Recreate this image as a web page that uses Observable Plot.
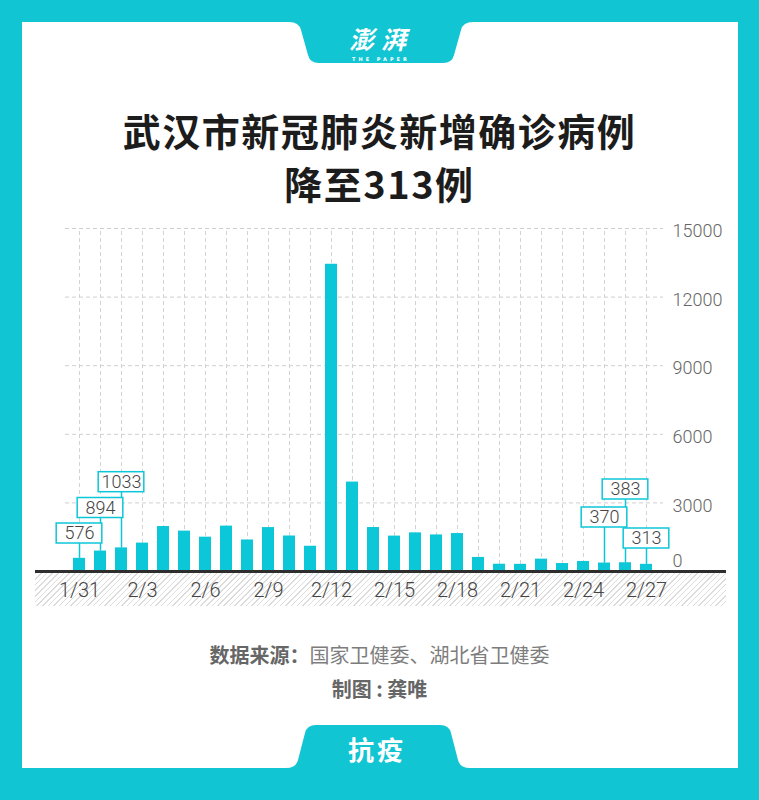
<!DOCTYPE html>
<html>
<head>
<meta charset="utf-8">
<script src="https://cdn.jsdelivr.net/npm/d3@7"></script>
<script src="https://cdn.jsdelivr.net/npm/@observablehq/plot@0.6"></script>
<style>
  html, body { margin: 0; padding: 0; }
  body { width: 759px; height: 800px; position: relative; overflow: hidden; background: #12c5d3; font-family: "Noto Sans CJK SC", "Noto Sans", sans-serif; }
  #paper { position: absolute; left: 22px; top: 22px; width: 716px; height: 746px; background: #fff; }
  #deco { position: absolute; left: 0; top: 0; }
  .title { position: absolute; left: 0; width: 759px; text-align: center; font-weight: 700; color: #1c1c1c; font-size: 38px; letter-spacing: 1.5px; line-height: 52px; }
  #hatch { position: absolute; left: 35px; top: 573px; width: 691px; height: 33px;
    background: repeating-linear-gradient(135deg, #dcdcdc 0px, #dcdcdc 1px, transparent 1px, transparent 4px); }
  #chart { position: absolute; left: 0; top: 200px; }
  .foot { position: absolute; left: 0; width: 759px; text-align: center; font-size: 20px; color: #7d7d7d; }
  .foot b { color: #666; font-weight: 700; }
  .logo { position: absolute; left: 0; width: 762px; text-align: center; color: #fff; line-height: 1; }
</style>
</head>
<body>
<div id="paper"></div>
<svg id="deco" width="759" height="800">
  <path fill="#12c5d3" d="M289 22 Q299 22 301 30 L308 55 Q310 63 319 63 L443 63 Q452 63 454 55 L461 30 Q463 22 473 22 Z"/>
  <path fill="#12c5d3" d="M286 768 Q296 768 298 760 L305 733 Q307 725 316 725 L440 725 Q449 725 451 733 L458 760 Q460 768 470 768 Z"/>
</svg>
<div class="logo" style="top:26px;font-size:25px;font-weight:700;font-style:italic;letter-spacing:7px;">澎湃</div>
<div class="logo" style="top:57px;font-size:5px;font-weight:700;letter-spacing:3px;font-family:'DejaVu Sans';">THE PAPER</div>
<div class="title" style="top:104px;">武汉市新冠肺炎新增确诊病例</div>
<div class="title" style="top:157px;">降至313例</div>
<div id="hatch"></div>
<div id="chart"></div>
<div class="foot" style="top:640px;"><b>数据来源：</b>国家卫健委、湖北省卫健委</div>
<div class="foot" style="top:674px;"><b>制图 : 龚唯</b></div>
<div class="logo" style="top:736px;left:-4px;font-size:26px;font-weight:700;letter-spacing:3px;">抗疫</div>
<script>
// ---- data ----
const dates = ["1/31","2/1","2/2","2/3","2/4","2/5","2/6","2/7","2/8","2/9","2/10","2/11","2/12","2/13","2/14","2/15","2/16","2/17","2/18","2/19","2/20","2/21","2/22","2/23","2/24","2/25","2/26","2/27"];
const newCases = [576,894,1033,1242,1967,1766,1501,1985,1379,1921,1552,1104,13436,3910,1923,1548,1690,1600,1660,615,319,314,541,348,439,370,383,313];
const xTickLabels = ["1/31","2/3","2/6","2/9","2/12","2/15","2/18","2/21","2/24","2/27"];
const yTicks = [0,3000,6000,9000,12000,15000];
const annotatedDates = ["1/31","2/1","2/2","2/25","2/26","2/27"];

// ---- layout ----
const W = 759, H = 420, mt = 28, mb = 49, ml = 35, mr = 33;
const yMax = 15000;
const ppu = (H - mt - mb) / yMax;           // pixels per case
const labelRise = {"1/31": 38, "2/1": 63.5, "2/2": 89.3, "2/25": 54, "2/26": 82, "2/27": 33};
const boxH = 20, boxW = 46;
const teal = "#0cc7d7";

const table = dates.map((d, i) => ({date: d, value: newCases[i]}));
const ann = annotatedDates.map(d => {
  const v = newCases[dates.indexOf(d)];
  const c = labelRise[d] / ppu;
  return {date: d, value: v, mid: c, lo: c - (boxH / 2) / ppu, hi: c + (boxH / 2) / ppu};
});

const bandPad = 0.42;
const step = (666 - 60) / (dates.length + bandPad);
const bw = step * (1 - bandPad);
const boxInset = -(boxW - bw) / 2;

const plot = Plot.plot({
  width: W, height: H,
  marginTop: mt, marginBottom: mb, marginLeft: ml, marginRight: mr,
  style: {background: "transparent", fontFamily: "Roboto, 'Noto Sans', sans-serif"},
  x: {type: "band", domain: dates, range: [60, 666], padding: bandPad, axis: null},
  y: {domain: [0, yMax], axis: null},
  marks: [
    Plot.ruleY(yTicks.filter(t => t > 0), {stroke: "#cfcfcf", strokeDasharray: "4,3", insetLeft: 30, insetRight: 63}),
    Plot.ruleX(dates, {x: d => d, y1: 0, y2: yMax, stroke: "#d2d2d2", strokeDasharray: "4,3"}),
    Plot.barY(table, {x: "date", y: "value", fill: teal}),
    Plot.ruleX(ann, {x: "date", y1: "value", y2: "lo", stroke: teal, strokeWidth: 1.5}),
    Plot.barY(ann, {x: "date", y1: "lo", y2: "hi", fill: "white", stroke: teal, strokeWidth: 1.5, insetLeft: boxInset, insetRight: boxInset}),
    Plot.text(ann, {x: "date", y: "mid", text: d => String(d.value), fontSize: 18, fill: "#444", fontWeight: 300}),
    Plot.ruleY([0], {stroke: "#2e2e2e", strokeWidth: 3}),
    Plot.text(xTickLabels, {x: d => d, y: 0, dy: 19, text: d => d, fontSize: 20, fill: "#444", fontWeight: 300}),
    Plot.text(yTicks.filter(t => t > 0), {y: t => t, text: t => String(t), frameAnchor: "right", textAnchor: "start", dx: -54, dy: 3, fontSize: 18, fill: "#666", fontWeight: 300}),
    Plot.text([0], {y: t => t, text: t => String(t), frameAnchor: "right", textAnchor: "start", dx: -54, dy: -10, fontSize: 18, fill: "#666", fontWeight: 300})
  ]
});
document.getElementById("chart").appendChild(plot);
</script>
</body>
</html>
